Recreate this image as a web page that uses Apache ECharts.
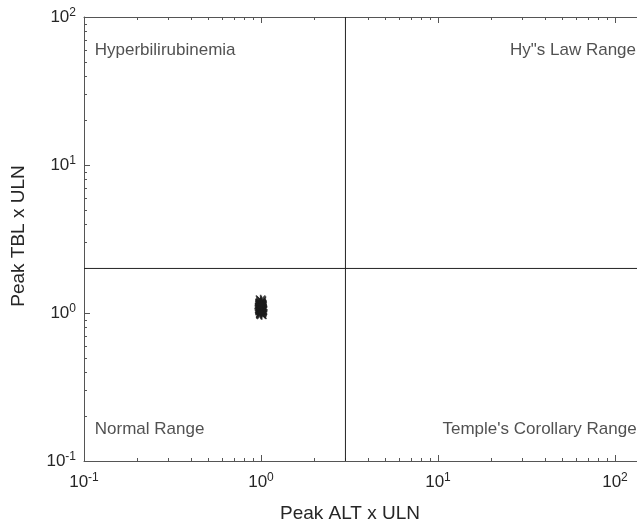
<!DOCTYPE html>
<html>
<head>
<meta charset="utf-8">
<script src="https://cdn.jsdelivr.net/npm/echarts@6/dist/echarts.min.js"></script>
<style>
  html, body { margin: 0; padding: 0; background: #fff; overflow: hidden; }
  #chart { width: 792px; height: 525px; }
</style>
</head>
<body>
<div id="chart"></div>
<script>
// patient peaks (x ULN)
const altValues = [1.0, 1.01, 0.99, 1.0, 1.0, 1.012, 0.988, 1.0, 1.015, 0.985, 1.0, 1.0, 1.01, 0.99, 1.0, 1.005, 0.995, 1.01, 0.99, 1.0, 1.0, 1.005];
const tblValues = [1.0, 1.02, 1.04, 1.06, 1.08, 1.1, 1.12, 1.15, 1.05, 1.07, 1.18, 0.99, 1.03, 1.09, 1.13, 1.2, 1.22, 0.98, 1.16, 1.11, 1.01, 1.14];

// quadrant limits
const altLimit = 3;
const tblLimit = 2;

const regionLabels = ['Hyperbilirubinemia', 'Hy"s Law Range', 'Normal Range', "Temple's Corollary Range"];
const regionX = [0.115, 25.5, 0.115, 10.6];
const regionY = [60, 60, 0.164, 0.164];

const xRange = [0.1, 1000];
const yRange = [0.1, 100];
const decades = [0.1, 1, 10, 100];

const FONT = 'Liberation Sans, Arial, Helvetica, sans-serif';
const TXT = '#262626';
const AXIS = '#555';

const chart = echarts.init(document.getElementById('chart'));

const powLabel = v => (v > 100 ? '' : '{b|10}{s|' + Math.round(Math.log10(v)) + '}');
const labelRich = {
  b: { fontSize: 17, color: TXT, fontFamily: FONT },
  s: { fontSize: 12, color: TXT, fontFamily: FONT, verticalAlign: 'top', padding: [0, 0, 8, 0] }
};

const asterisk = 'path://M4.3,0L5.7,0L5.7,10L4.3,10Z M0,4.3L10,4.3L10,5.7L0,5.7Z M1.2,0.2L9.8,8.8L8.8,9.8L0.2,1.2Z M8.8,0.2L9.8,1.2L1.2,9.8L0.2,8.8Z';

const baseX = {
  type: 'log',
  logBase: 10,
  min: xRange[0],
  max: xRange[1],
  axisLine: { show: true, lineStyle: { color: AXIS, width: 1 } },
  axisTick: { show: true, inside: true, length: 6, lineStyle: { color: AXIS } },
  splitLine: { show: false }
};

const option = {
  animation: false,
  backgroundColor: '#fff',
  grid: { left: 84, top: 17, right: 0, bottom: 64, containLabel: false, outerBoundsMode: 'none' },
  xAxis: [
    Object.assign({}, baseX, {
      position: 'bottom',
      axisLabel: { margin: 11, formatter: powLabel, rich: labelRich }
    }),
    Object.assign({}, baseX, {
      position: 'top',
      axisLabel: { show: false }
    })
  ],
  yAxis: {
    type: 'log',
    logBase: 10,
    min: yRange[0],
    max: yRange[1],
    axisLine: { show: true, lineStyle: { color: AXIS, width: 1 } },
    axisTick: { show: true, inside: true, length: 6, lineStyle: { color: AXIS } },
    axisLabel: { margin: 8, formatter: powLabel, rich: labelRich },
    splitLine: { show: false }
  },
  graphic: [
    {
      type: 'text', x: 350, y: 514,
      style: { text: 'Peak ALT x ULN', font: '19px ' + FONT, fill: TXT, textAlign: 'center', textVerticalAlign: 'middle' }
    },
    {
      type: 'text', x: 19, y: 236, rotation: Math.PI / 2,
      style: { text: 'Peak TBL x ULN', font: '19px ' + FONT, fill: TXT, textAlign: 'center', textVerticalAlign: 'middle' }
    }
  ],
  series: [
    {
      // minor log ticks
      type: 'custom',
      coordinateSystem: 'cartesian2d',
      clip: false,
      silent: true,
      data: [[1, 1]],
      renderItem: function (params, api) {
        const children = [];
        const st = { stroke: AXIS, lineWidth: 1 };
        decades.forEach(d => {
          for (let k = 2; k < 10; k++) {
            const v = d * k;
            const b = api.coord([v, yRange[0]]);
            const t = api.coord([v, yRange[1]]);
            children.push({ type: 'line', shape: { x1: Math.round(b[0]) + 0.5, y1: b[1], x2: Math.round(b[0]) + 0.5, y2: b[1] - 3 }, style: st });
            children.push({ type: 'line', shape: { x1: Math.round(t[0]) + 0.5, y1: t[1], x2: Math.round(t[0]) + 0.5, y2: t[1] + 3 }, style: st });
            if (v < yRange[1]) {
              const l = api.coord([xRange[0], v]);
              children.push({ type: 'line', shape: { x1: l[0], y1: Math.round(l[1]) + 0.5, x2: l[0] + 3, y2: Math.round(l[1]) + 0.5 }, style: st });
            }
          }
        });
        return { type: 'group', children: children };
      }
    },
    {
      type: 'line',
      data: [[altLimit, yRange[0]], [altLimit, yRange[1]]],
      symbol: 'none',
      lineStyle: { color: '#222', width: 1 },
      silent: true
    },
    {
      type: 'line',
      data: [[xRange[0], tblLimit], [xRange[1], tblLimit]],
      symbol: 'none',
      lineStyle: { color: '#222', width: 1 },
      silent: true
    },
    {
      type: 'scatter',
      data: altValues.map((a, i) => [a, tblValues[i]]),
      symbol: asterisk,
      symbolSize: 11,
      itemStyle: { color: '#1a1a1a' }
    },
    {
      type: 'scatter',
      data: regionLabels.map((n, i) => [regionX[i], regionY[i], n]),
      symbolSize: 0,
      silent: true,
      label: {
        show: true,
        position: 'right',
        distance: 0,
        formatter: p => p.data[2],
        fontSize: 17,
        fontFamily: FONT,
        color: TXT
      }
    }
  ]
};

chart.setOption(option);
</script>
</body>
</html>
